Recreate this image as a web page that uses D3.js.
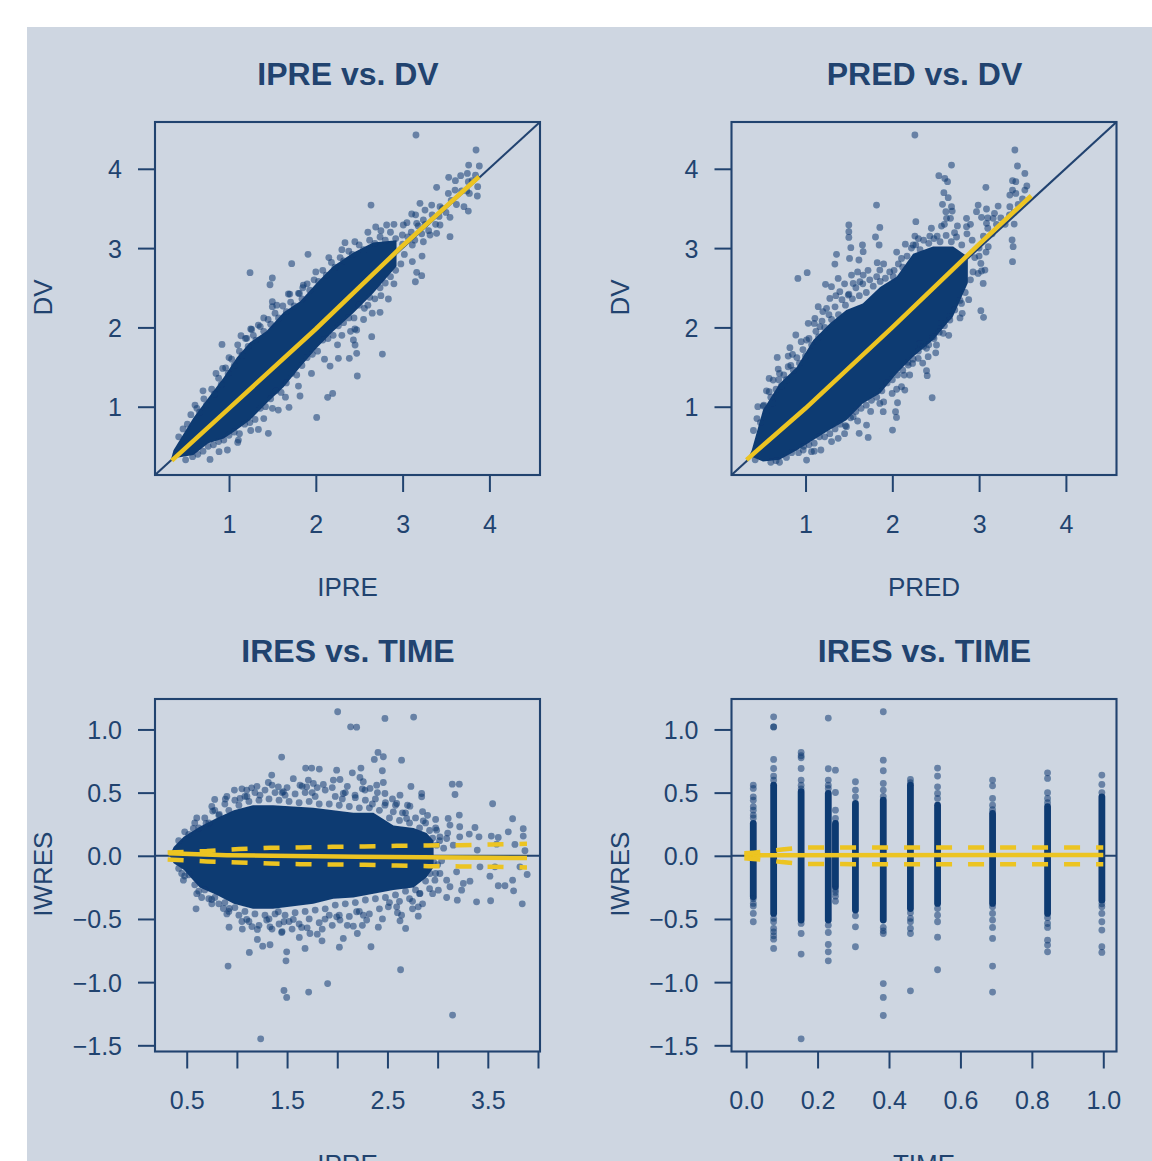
<!DOCTYPE html>
<html>
<head>
<meta charset="utf-8">
<script src="https://cdn.jsdelivr.net/npm/d3@7"></script>
<style>
  body { margin: 0; background: #fff; }
  svg { display: block; }
  text { font-family: 'Liberation Sans', Arial, sans-serif; fill: #21436f; }
</style>
</head>
<body>
<svg width="1152" height="1161"></svg>
<script>
// Tick values and labels
const dvTicks = [1, 2, 3, 4]
const iwresTicks = [-1.5, -1, -0.5, 0, 0.5, 1]
const ipreResTicks = [0.5, 1, 1.5, 2, 2.5, 3, 3.5, 4]
const ipreResLabels = [0.5, 1.5, 2.5, 3.5]
const timeTicks = [0, 0.2, 0.4, 0.6, 0.8, 1]

// IPRE vs. DV - solid core of the cloud (x, lower edge, upper edge)
const ipreCoreX = [0.33, 0.36, 0.59, 0.76, 0.94, 1.09, 1.24, 1.43, 1.63, 1.82, 2.01, 2.2, 2.43, 2.66, 2.93]
const ipreCoreLo = [0.33, 0.35, 0.39, 0.54, 0.6, 0.71, 0.83, 1.04, 1.25, 1.5, 1.74, 1.95, 2.18, 2.43, 2.77]
const ipreCoreHi = [0.33, 0.45, 0.86, 1.11, 1.37, 1.62, 1.81, 1.95, 2.19, 2.33, 2.56, 2.77, 2.94, 3.07, 3.1]
const ipreFitX = [0.34, 1, 2, 3, 3.88]
const ipreFitY = [0.32, 0.98, 1.98, 3.03, 3.9]
const iprePoints = [
  [3.154, 4.426], [3.846, 4.237], [3.761, 4.047], [3.884, 4.035], [3.669, 3.913], [3.746, 3.942], [3.531, 3.892],
  [3.608, 3.85], [3.392, 3.766], [3.757, 3.837], [3.865, 3.774], [3.861, 3.657], [3.769, 3.69], [3.527, 3.69],
  [3.604, 3.732], [3.707, 3.522], [3.757, 3.467], [3.546, 3.388], [3.546, 3.144], [2.636, 3.543], [3.2, 3.564],
  [3.258, 3.48], [3.335, 3.543], [3.431, 3.522], [3.105, 3.43], [3.162, 3.312], [3.239, 3.354], [3.431, 3.291],
  [3.392, 3.186], [3.316, 3.165], [2.69, 3.266], [2.816, 3.291], [3.008, 3.291], [2.997, 3.165], [3.112, 3.039],
  [3.239, 3.08], [3.224, 2.9], [3.112, 2.83], [3.162, 2.694], [3.22, 2.652], [3.147, 2.576], [2.336, 3.068],
  [1.91, 2.921], [1.722, 2.803], [1.242, 2.69], [1.499, 2.623], [1.472, 2.538], [1.856, 2.534], [1.684, 2.421],
  [1.811, 2.429], [1.499, 2.324], [1.499, 2.261], [1.338, 2.03], [1.261, 1.975], [1.138, 1.895], [1.204, 1.862],
  [0.919, 1.786], [0.927, 1.483], [0.608, 1.021], [2.836, 2.358], [2.74, 2.19], [2.644, 1.883], [2.767, 1.664],
  [2.471, 1.967], [2.433, 1.841], [2.452, 1.778], [2.471, 1.673], [2.386, 1.61], [2.26, 1.61], [2.164, 1.513],
  [2.478, 1.387], [2.194, 1.168], [2.136, 1.118], [2.01, 0.865], [1.818, 1.135], [1.691, 0.992], [1.568, 0.958],
  [1.453, 0.664], [1.338, 0.714], [0.981, 0.454], [0.885, 0.433], [0.781, 0.336], [1.108, 0.58]
]
const ipreFringe = [
  [0.42, 0.62], [0.47, 0.72], [0.52, 0.78], [0.56, 0.9], [0.63, 0.98], [0.66, 0.93], [0.71, 1.1], [0.74, 1.02], [0.8, 1.22], [0.83, 1.16],
  [0.88, 1.36], [0.91, 1.28], [0.96, 1.49], [0.99, 1.42], [1.03, 1.6], [1.06, 1.52], [1.12, 1.7], [1.15, 1.65], [1.19, 1.86], [1.22, 1.76],
  [1.28, 1.9], [1.31, 1.84], [1.36, 2.01], [1.4, 1.95], [1.45, 2.1], [1.48, 2.04], [1.53, 2.18], [1.57, 2.12], [1.62, 2.27], [1.66, 2.2],
  [1.71, 2.32], [1.75, 2.27], [1.8, 2.43], [1.84, 2.36], [1.9, 2.55], [1.93, 2.47], [1.98, 2.6], [2.03, 2.58], [2.08, 2.72], [2.12, 2.66],
  [2.18, 2.82], [2.22, 2.76], [2.28, 2.88], [2.32, 2.84], [2.38, 2.96], [2.42, 2.92], [2.5, 3.04], [2.55, 2.98], [2.62, 3.1], [2.68, 3.06],
  [2.74, 3.14], [2.8, 3.1], [2.86, 3.2], [2.92, 3.12],
  [0.5, 0.33], [0.58, 0.37], [0.64, 0.4], [0.7, 0.44], [0.76, 0.5], [0.82, 0.52], [0.88, 0.56], [0.94, 0.58], [1.0, 0.64], [1.06, 0.68],
  [1.12, 0.66], [1.18, 0.78], [1.24, 0.8], [1.3, 0.84], [1.36, 0.98], [1.42, 1.0], [1.48, 1.1], [1.54, 1.2], [1.6, 1.18], [1.66, 1.3],
  [1.72, 1.42], [1.78, 1.4], [1.84, 1.52], [1.9, 1.62], [1.96, 1.66], [2.02, 1.7], [2.08, 1.84], [2.14, 1.86], [2.2, 1.9], [2.26, 2.02],
  [2.32, 2.06], [2.38, 2.12], [2.44, 2.12], [2.5, 2.28], [2.56, 2.24], [2.62, 2.38], [2.68, 2.36], [2.74, 2.5], [2.8, 2.56], [2.86, 2.64],
  [2.92, 2.72], [2.98, 2.8],
  [3.0, 3.05], [3.02, 2.92], [3.06, 3.14], [3.1, 3.2], [3.14, 3.1], [3.18, 3.28], [3.22, 3.18], [3.26, 3.3], [3.3, 3.22], [3.34, 3.42],
  [3.38, 3.3], [3.42, 3.4], [3.46, 3.5], [3.5, 3.45], [3.56, 3.6], [3.62, 3.55], [3.68, 3.72], [3.74, 3.72], [3.8, 3.85], [3.84, 3.92],
  [1.1, 0.55], [1.25, 0.7], [1.4, 0.85], [1.5, 0.98], [1.65, 1.12], [1.8, 1.26], [1.95, 1.42], [2.1, 1.6], [2.25, 1.78], [2.4, 1.95],
  [2.55, 2.1], [2.65, 2.18], [2.3, 1.9], [2.45, 1.98], [2.6, 2.28], [2.75, 2.4], [2.9, 2.55],
  [0.7, 1.2], [0.85, 1.42], [1.0, 1.62], [1.1, 1.78], [1.25, 1.98], [1.4, 2.12], [1.55, 2.28], [1.7, 2.42], [1.85, 2.5], [2.0, 2.7],
  [2.15, 2.88], [2.3, 2.98], [2.45, 3.08], [2.6, 3.2], [2.75, 3.22], [2.9, 3.3], [3.05, 3.32], [3.15, 3.42]
]

// PRED vs. DV
const predCoreX = [0.33, 0.38, 0.51, 0.7, 0.9, 1.09, 1.28, 1.47, 1.66, 1.86, 2.05, 2.24, 2.47, 2.7, 2.87]
const predCoreLo = [0.33, 0.37, 0.31, 0.33, 0.45, 0.58, 0.71, 0.83, 1.04, 1.17, 1.42, 1.63, 1.84, 2.14, 2.56]
const predCoreHi = [0.33, 0.45, 0.96, 1.29, 1.5, 1.84, 2.05, 2.22, 2.3, 2.51, 2.64, 2.93, 3.02, 3.02, 2.89]
const predFitX = [0.32, 1, 2, 3, 3.6]
const predFitY = [0.33, 0.98, 2.0, 3.05, 3.66]
const predPoints = [
  [2.26, 4.426], [3.412, 4.237], [2.682, 4.047], [3.442, 4.035], [3.527, 3.942], [2.536, 3.913], [2.605, 3.879],
  [2.636, 3.837], [3.078, 3.766], [3.385, 3.85], [3.423, 3.837], [3.55, 3.783], [3.385, 3.732], [3.423, 3.69],
  [3.527, 3.732], [3.354, 3.669], [2.594, 3.699], [2.644, 3.636], [2.578, 3.552], [2.682, 3.522], [2.69, 3.467],
  [2.617, 3.459], [2.625, 3.375], [2.67, 3.375], [1.818, 3.543], [2.989, 3.543], [3.085, 3.493], [3.219, 3.53],
  [3.354, 3.522], [2.97, 3.459], [3.177, 3.438], [2.855, 3.375], [3.028, 3.388], [3.162, 3.375], [3.404, 3.303],
  [1.499, 3.291], [1.856, 3.261], [2.271, 3.333], [1.499, 3.207], [1.499, 3.135], [1.806, 3.14], [2.567, 3.278],
  [2.855, 3.27], [3.085, 3.312], [1.848, 3.039], [1.522, 3.005], [1.656, 3.039], [1.664, 2.955], [3.38, 3.102],
  [3.392, 3.018], [3.105, 3.018], [3.385, 2.829], [2.26, 3.152], [2.432, 3.152], [2.517, 3.152], [2.24, 3.039],
  [2.717, 3.194], [1.357, 2.921], [1.507, 2.87], [1.338, 2.799], [1.615, 2.85], [1.826, 2.816], [2.106, 2.87],
  [1.019, 2.69], [0.912, 2.618], [1.376, 2.618], [1.53, 2.66], [1.664, 2.66], [1.856, 2.723], [2.01, 2.639],
  [1.549, 2.555], [1.626, 2.576], [1.23, 2.543], [1.299, 2.513], [1.395, 2.45], [1.28, 2.366], [1.492, 2.408],
  [1.146, 2.261], [1.242, 2.24], [1.031, 2.051], [1.108, 2.114], [1.165, 2.009], [0.888, 1.904], [1.012, 1.841],
  [0.82, 1.744], [0.674, 1.622], [0.8, 1.639], [0.685, 1.475], [0.8, 1.504], [0.581, 1.357], [0.581, 1.189],
  [0.512, 1.008], [0.627, 1.336], [3.028, 2.711], [3.067, 2.723], [2.989, 2.681], [3.047, 2.555], [3.02, 2.211],
  [3.051, 2.127], [3.02, 2.807], [2.805, 2.177], [2.663, 2.093], [2.797, 2.303], [2.567, 2.051], [2.586, 1.925],
  [2.509, 1.778], [2.394, 1.736], [2.413, 1.631], [2.298, 1.61], [2.233, 1.546], [2.183, 1.525], [2.394, 1.454],
  [2.402, 1.391], [2.137, 1.399], [2.106, 1.252], [2.144, 1.21], [2.459, 1.113], [1.998, 1.168], [2.06, 1.05],
  [1.895, 0.937], [2.037, 0.937], [2.048, 0.865], [1.856, 1.042], [1.703, 0.769], [1.618, 0.664], [1.722, 0.613],
  [2.002, 0.706], [1.472, 0.748], [1.549, 0.874], [1.376, 0.601], [1.177, 0.454], [1.069, 0.433], [1.012, 0.327],
  [0.973, 0.454], [2.317, 1.799], [2.471, 1.883]
]
const predFringe = [
  [0.4, 0.7], [0.44, 0.85], [0.48, 0.8], [0.52, 1.02], [0.55, 0.95], [0.6, 1.12], [0.62, 1.05], [0.66, 1.22], [0.69, 1.34], [0.72, 1.26],
  [0.75, 1.4], [0.78, 1.34], [0.83, 1.52], [0.86, 1.46], [0.9, 1.62], [0.93, 1.55], [0.97, 1.72], [1.0, 1.64], [1.04, 1.86], [1.07, 1.78],
  [1.12, 1.95], [1.15, 1.88], [1.19, 2.08], [1.22, 2.0], [1.27, 2.16], [1.3, 2.1], [1.34, 2.26], [1.38, 2.16], [1.42, 2.35], [1.46, 2.28],
  [1.5, 2.42], [1.54, 2.36], [1.58, 2.5], [1.62, 2.4], [1.66, 2.55], [1.7, 2.44], [1.74, 2.6], [1.78, 2.52], [1.82, 2.64], [1.86, 2.58],
  [1.92, 2.62], [1.97, 2.7], [2.02, 2.72], [2.07, 2.8], [2.12, 2.76], [2.17, 2.9], [2.22, 3.0], [2.27, 3.04], [2.32, 2.98], [2.36, 3.1],
  [2.42, 3.06], [2.48, 3.12], [2.55, 3.08], [2.62, 3.16], [2.68, 3.08], [2.74, 3.14], [2.8, 3.04], [2.86, 3.18], [2.92, 3.1], [2.95, 2.88],
  [0.42, 0.33], [0.6, 0.3], [0.66, 0.32], [0.78, 0.36], [0.84, 0.42], [0.92, 0.42], [0.98, 0.5], [1.04, 0.52], [1.1, 0.54], [1.16, 0.62],
  [1.22, 0.62], [1.28, 0.66], [1.34, 0.72], [1.4, 0.78], [1.46, 0.76], [1.52, 0.86], [1.58, 0.94], [1.64, 0.98], [1.7, 1.02], [1.76, 1.08],
  [1.82, 1.12], [1.88, 1.2], [1.94, 1.3], [2.0, 1.34], [2.06, 1.4], [2.12, 1.46], [2.18, 1.56], [2.24, 1.6], [2.3, 1.7], [2.36, 1.76],
  [2.42, 1.78], [2.48, 1.86], [2.54, 1.94], [2.6, 2.02], [2.66, 2.14], [2.72, 2.22], [2.78, 2.34], [2.84, 2.44], [2.9, 2.6], [2.93, 2.7],
  [3.0, 3.0], [3.05, 3.15], [3.1, 3.25], [3.15, 3.18], [3.2, 3.3], [3.25, 3.38], [3.3, 3.3], [3.35, 3.42], [3.4, 3.45], [3.45, 3.55],
  [3.5, 3.62], [3.0, 2.9], [3.08, 2.95],
  [0.45, 1.0], [0.55, 1.2], [0.7, 1.42], [0.85, 1.66], [0.95, 1.82], [1.1, 2.05], [1.2, 2.2], [1.35, 2.4], [1.45, 2.55], [1.6, 2.7],
  [1.72, 2.72], [1.9, 2.8], [2.05, 2.95], [2.15, 3.05], [2.3, 3.12], [2.45, 3.25], [2.6, 3.3], [2.75, 3.28], [2.9, 3.3], [3.1, 3.38],
  [0.7, 0.3], [1.1, 0.44], [1.3, 0.56], [1.45, 0.66], [1.6, 0.82], [1.75, 0.94], [1.9, 1.06], [2.05, 1.22], [2.2, 1.4], [2.35, 1.55],
  [2.5, 1.68], [2.65, 1.9], [2.78, 2.12], [2.88, 2.35]
]

// IPRE vs. IWRES
const resCoreX = [0.33, 0.37, 0.47, 0.63, 0.8, 0.97, 1.16, 1.36, 1.56, 1.76, 1.96, 2.16, 2.36, 2.56, 2.76, 2.89, 2.96]
const resCoreLo = [0, -0.06, -0.11, -0.25, -0.31, -0.38, -0.42, -0.42, -0.4, -0.38, -0.34, -0.33, -0.3, -0.27, -0.25, -0.17, -0.09]
const resCoreHi = [0, 0.07, 0.15, 0.23, 0.3, 0.36, 0.4, 0.4, 0.39, 0.38, 0.36, 0.34, 0.34, 0.24, 0.22, 0.18, 0.12]
const resFitX = [0.32, 0.9, 2.2, 3.5, 3.89]
const resFitY = [0.02, 0.005, -0.008, -0.016, -0.018]
const resBandX = [0.31, 0.7, 1.02, 1.33, 1.63, 1.95, 2.27, 2.59, 2.91, 3.22, 3.55, 3.89]
const resBandHi = [0.026, 0.037, 0.053, 0.063, 0.066, 0.071, 0.074, 0.079, 0.082, 0.084, 0.09, 0.095]
const resBandLo = [-0.029, -0.045, -0.053, -0.061, -0.066, -0.069, -0.071, -0.077, -0.082, -0.084, -0.087, -0.092]
const resPoints = [
  [2.004, 1.14], [2.133, 1.021], [2.193, 1.018], [2.475, 1.087], [2.761, 1.098], [1.446, 0.781], [2.406, 0.818],
  [2.459, 0.784], [2.369, 0.763], [2.641, 0.757], [1.685, 0.694], [1.745, 0.694], [1.821, 0.686], [1.994, 0.678],
  [2.15, 0.657], [2.236, 0.694], [2.449, 0.673], [1.347, 0.639], [1.562, 0.61], [1.313, 0.58], [1.961, 0.599],
  [2.027, 0.604], [2.226, 0.62], [2.259, 0.586], [1.629, 0.559], [1.712, 0.599], [1.762, 0.573], [1.861, 0.565],
  [2.459, 0.58], [2.393, 0.559], [2.326, 0.533], [2.276, 0.52], [2.475, 0.493], [2.734, 0.549], [0.975, 0.52],
  [1.147, 0.538], [1.413, 0.546], [1.098, 0.52], [1.463, 0.507], [1.695, 0.546], [2.06, 0.493], [2.177, 0.48],
  [2.625, 0.48], [2.841, 0.493], [2.841, 0.467], [3.146, 0.567], [3.216, 0.567], [3.173, 0.485], [3.548, 0.412],
  [0.779, 0.446], [0.885, 0.449], [0.759, 0.354], [0.825, 0.327], [1.031, 0.454], [1.23, 0.48], [2.592, 0.414],
  [2.475, 0.401], [2.724, 0.393], [2.558, 0.348], [2.691, 0.296], [3.216, 0.322], [2.857, 0.277], [2.98, 0.288],
  [3.105, 0.296], [3.747, 0.293], [3.123, 0.243], [2.99, 0.203], [3.22, 0.23], [3.372, 0.224], [3.853, 0.214],
  [3.704, 0.19], [3.412, 0.15], [3.535, 0.156], [3.604, 0.145], [3.315, 0.172], [3.09, 0.137], [3.023, 0.15],
  [3.22, 0.15], [3.853, 0.156], [3.77, 0.09], [3.588, 0.092], [3.395, 0.045], [3.156, 0.084], [2.99, 0.084],
  [3.87, 0.04], [0.693, 0.256], [0.566, 0.216], [3.892, -0.148], [3.82, -0.087], [3.747, -0.193], [3.757, -0.277],
  [3.843, -0.38], [3.528, -0.356], [3.671, -0.237], [3.604, -0.237], [3.521, -0.161], [3.571, -0.087], [3.388, -0.364],
  [3.422, -0.087], [3.322, -0.201], [3.256, -0.219], [3.239, -0.272], [3.196, -0.351], [3.09, -0.33], [3.007, -0.272],
  [3.123, -0.245], [2.973, -0.193], [3.09, -0.193], [3.023, -0.14], [3.189, -0.127], [2.924, -0.14], [2.824, -0.298],
  [2.807, -0.404], [2.807, -0.478], [2.641, -0.47], [2.681, -0.575], [2.625, -0.515], [2.592, -0.404], [2.509, -0.404],
  [2.409, -0.565], [2.293, -0.509], [2.26, -0.47], [2.193, -0.443], [2.16, -0.557], [2.2, -0.615], [2.06, -0.654],
  [2.021, -0.723], [2.336, -0.72], [2.027, -0.509], [1.994, -0.483], [1.878, -0.501], [1.801, -0.62], [1.848, -0.673],
  [1.728, -0.615], [1.679, -0.733], [1.622, -0.646], [1.645, -0.567], [1.562, -0.504], [1.469, -0.522], [1.446, -0.607],
  [1.496, -0.76], [1.489, -0.831], [1.413, -0.443], [1.297, -0.509], [1.33, -0.562], [1.204, -0.583], [1.204, -0.662],
  [1.257, -0.715], [1.33, -0.704], [1.124, -0.765], [1.054, -0.58], [0.922, -0.565], [1.098, -0.504], [0.925, -0.417],
  [0.865, -0.417], [0.593, -0.42], [0.649, -0.33], [0.749, -0.346], [0.467, -0.193], [0.45, -0.14], [0.912, -0.873],
  [2.631, -0.902], [1.904, -1.011], [1.469, -1.066], [1.496, -1.121], [1.715, -1.079], [3.149, -1.261], [1.237, -1.449]
]
const resFringe = [
  [0.42, 0.12], [0.48, 0.19], [0.52, 0.17], [0.58, 0.26], [0.62, 0.22], [0.68, 0.3], [0.72, 0.26], [0.78, 0.36], [0.82, 0.32], [0.88, 0.41],
  [0.92, 0.36], [0.98, 0.44], [1.02, 0.4], [1.08, 0.47], [1.12, 0.43], [1.18, 0.5], [1.22, 0.44], [1.28, 0.52], [1.32, 0.45], [1.38, 0.5],
  [1.42, 0.44], [1.48, 0.48], [1.52, 0.43], [1.58, 0.49], [1.62, 0.42], [1.68, 0.5], [1.72, 0.43], [1.78, 0.47], [1.82, 0.41], [1.88, 0.52],
  [1.92, 0.41], [1.98, 0.47], [2.02, 0.4], [2.08, 0.5], [2.12, 0.39], [2.18, 0.46], [2.22, 0.38], [2.28, 0.44], [2.32, 0.38], [2.38, 0.45],
  [2.42, 0.36], [2.48, 0.42], [2.52, 0.3], [2.58, 0.4], [2.62, 0.28], [2.68, 0.34], [2.72, 0.26], [2.78, 0.3], [2.82, 0.22], [2.88, 0.26],
  [2.92, 0.2], [2.98, 0.22], [2.95, 0.14], [3.02, 0.12], [3.06, 0.06], [3.1, 0.18],
  [0.42, -0.1], [0.48, -0.16], [0.52, -0.15], [0.58, -0.23], [0.62, -0.28], [0.68, -0.27], [0.72, -0.34], [0.78, -0.33], [0.82, -0.38], [0.88, -0.37],
  [0.92, -0.44], [0.98, -0.41], [1.02, -0.47], [1.08, -0.44], [1.12, -0.52], [1.18, -0.46], [1.22, -0.55], [1.28, -0.47], [1.32, -0.5], [1.38, -0.46],
  [1.42, -0.54], [1.48, -0.47], [1.52, -0.52], [1.58, -0.45], [1.62, -0.54], [1.68, -0.44], [1.72, -0.5], [1.78, -0.43], [1.82, -0.53], [1.88, -0.42],
  [1.92, -0.47], [1.98, -0.39], [2.02, -0.47], [2.08, -0.38], [2.12, -0.48], [2.18, -0.37], [2.22, -0.44], [2.28, -0.35], [2.32, -0.46], [2.38, -0.34],
  [2.42, -0.42], [2.48, -0.33], [2.52, -0.37], [2.58, -0.31], [2.62, -0.36], [2.68, -0.28], [2.72, -0.34], [2.78, -0.27], [2.82, -0.3], [2.88, -0.2],
  [2.92, -0.26], [2.98, -0.14], [3.0, -0.07], [3.04, -0.04], [2.96, -0.05],
  [0.6, 0.3], [0.75, 0.39], [0.9, 0.47], [1.05, 0.53], [1.2, 0.55], [1.35, 0.56], [1.5, 0.54], [1.65, 0.55], [1.8, 0.54], [1.95, 0.54],
  [2.1, 0.55], [2.25, 0.53], [2.4, 0.5], [2.55, 0.45], [2.7, 0.4], [2.85, 0.35], [1.1, 0.47], [1.45, 0.5], [1.75, 0.5], [2.05, 0.45],
  [2.35, 0.41], [2.65, 0.34], [2.9, 0.32],
  [0.6, -0.3], [0.75, -0.38], [0.9, -0.46], [1.05, -0.52], [1.15, -0.56], [1.35, -0.58], [1.45, -0.6], [1.55, -0.58], [1.7, -0.57], [1.85, -0.58],
  [1.95, -0.55], [2.1, -0.55], [2.25, -0.55], [2.45, -0.5], [2.6, -0.45], [2.75, -0.42], [2.85, -0.38], [2.75, -0.36], [2.95, -0.3]
]

// TIME vs. IWRES - every sampling time has a solid column and a few loose points
const timeValues = [0.02, 0.077, 0.154, 0.23, 0.25, 0.306, 0.384, 0.46, 0.536, 0.69, 0.844, 0.996]
const timeCoreHi = [0.256, 0.559, 0.507, 0.493, 0.256, 0.414, 0.441, 0.559, 0.401, 0.335, 0.388, 0.467]
const timeCoreLo = [-0.325, -0.456, -0.509, -0.509, -0.245, -0.43, -0.509, -0.417, -0.377, -0.377, -0.456, -0.351]
const timeLoose = [
  [0.56, 0.533, 0.467, 0.44, 0.388, 0.361, 0.322, 0.3, -0.34, -0.377, -0.398, -0.456, -0.522],
  [1.1, 1.02, 1.02, 0.763, 0.691, 0.631, 0.599, -0.496, -0.522, -0.575, -0.602, -0.633, -0.66, -0.733],
  [0.818, 0.792, 0.776, 0.691, 0.599, 0.559, 0.53, -0.535, -0.615, -0.778, -1.449],
  [1.09, 0.689, 0.599, 0.559, 0.533, -0.549, -0.607, -0.702, -0.76, -0.831],
  [0.678, 0.501, 0.361, 0.296, -0.27, -0.29, -0.32, -0.359],
  [0.586, 0.52, 0.467, -0.475, -0.562, -0.72],
  [1.14, 0.757, 0.673, 0.573, 0.52, 0.47, -0.567, -0.594, -0.615, -1.011, -1.121, -1.264],
  [0.604, 0.578, -0.45, -0.496, -0.522, -0.575, -0.615, -1.069],
  [0.694, 0.631, 0.546, 0.493, 0.454, -0.417, -0.47, -0.522, -0.644, -0.902],
  [0.599, 0.554, 0.454, 0.401, 0.365, -0.404, -0.456, -0.509, -0.567, -0.654, -0.873, -1.079],
  [0.657, 0.612, 0.499, 0.454, 0.42, -0.49, -0.536, -0.567, -0.668, -0.707, -0.76],
  [0.639, 0.565, 0.5, -0.38, -0.404, -0.456, -0.522, -0.588, -0.72, -0.765]
]
const timeFitX = [-0.005, 1]
const timeFitY = [0.005, 0.006]
const timeBandX = [-0.005, 0.02, 0.06, 0.1, 0.16, 0.3, 1]
const timeBandHi = [0.02, 0.025, 0.035, 0.05, 0.065, 0.066, 0.066]
const timeBandLo = [-0.02, -0.025, -0.035, -0.05, -0.065, -0.066, -0.066]

const ink = '#21436f'
const dotBlue = '#0f3a72'
const gold = '#ecc420'

const svg = d3.select('svg')
svg.append('defs').append('filter').attr('id', 'soft')
  .append('feGaussianBlur').attr('stdDeviation', 0.45)
svg.append('rect').attr('x', 27).attr('y', 27).attr('width', 1125).attr('height', 1134).attr('fill', '#ced6e1')

function pairs (xs, ys) {
  return xs.map(function (x, i) { return [x, ys[i]] })
}

// One panel: frame, axes and titles. Returns the scales for the marks
function drawFrame (opts) {
  const g = svg.append('g').attr('transform', 'translate(' + opts.left + ',' + opts.top + ')')
  const x = d3.scaleLinear().domain(opts.xDomain).range([0, opts.width])
  const y = d3.scaleLinear().domain(opts.yDomain).range([opts.height, 0])

  const xAxis = g.append('g').attr('transform', 'translate(0,' + opts.height + ')')
    .call(d3.axisBottom(x).tickValues(opts.xTicks).tickSizeOuter(0).tickSize(17).tickPadding(23)
      .tickFormat(opts.xFormat))
  const yAxis = g.append('g')
    .call(d3.axisLeft(y).tickValues(opts.yTicks).tickSizeOuter(0).tickSize(17).tickPadding(16)
      .tickFormat(opts.yFormat))
  xAxis.selectAll('text').attr('dy', '0.71em')
  yAxis.selectAll('text').attr('dy', '0.36em')
  ;[xAxis, yAxis].forEach(function (a) {
    a.select('.domain').remove()
    a.selectAll('line').attr('stroke', ink).attr('stroke-width', 2)
    a.selectAll('text').style('font-size', '25px').attr('fill', ink)
  })

  g.append('text').attr('x', opts.width / 2 + 0.5).attr('y', -37).attr('text-anchor', 'middle')
    .style('font-size', '32px').style('font-weight', 'bold').text(opts.title)
  g.append('text').attr('x', opts.width / 2).attr('y', opts.height + 121).attr('text-anchor', 'middle')
    .style('font-size', '26px').text(opts.xLabel)
  g.append('text').attr('transform', 'translate(-103,' + (opts.height / 2 - 1) + ') rotate(-90)')
    .attr('text-anchor', 'middle').style('font-size', '26px').text(opts.yLabel)

  const marks = g.append('g').attr('filter', 'url(#soft)')
  return { g: g, marks: marks, x: x, y: y, width: opts.width, height: opts.height }
}

function drawBox (p) {
  p.g.append('rect').attr('width', p.width).attr('height', p.height)
    .attr('fill', 'none').attr('stroke', ink).attr('stroke-width', 2.1)
}

function drawDots (p, points) {
  p.marks.append('g').selectAll('circle')
    .data(points)
    .enter().append('circle')
    .attr('cx', function (d) { return p.x(d[0]) })
    .attr('cy', function (d) { return p.y(d[1]) })
    .attr('r', 3.4)
    .attr('fill', dotBlue)
    .attr('fill-opacity', 0.55)
}

function drawCore (p, xs, lo, hi) {
  const area = d3.area()
    .x(function (d) { return p.x(d) })
    .y0(function (d, i) { return p.y(lo[i]) })
    .y1(function (d, i) { return p.y(hi[i]) })
  p.marks.append('path').datum(xs).attr('fill', dotBlue).attr('d', area)
}

function drawLine (p, points, color, width, dash) {
  const line = d3.line()
    .x(function (d) { return p.x(d[0]) })
    .y(function (d) { return p.y(d[1]) })
  p.marks.append('path').datum(points).attr('fill', 'none')
    .attr('stroke', color).attr('stroke-width', width)
    .attr('stroke-dasharray', dash || null)
    .attr('d', line)
}

const plainFormat = function (d) { return d }
const dvDomain = [0.147, 4.583]
const dvOpts = { width: 385, height: 353, xDomain: dvDomain, yDomain: [0.139, 4.59], xTicks: dvTicks, yTicks: dvTicks, xFormat: plainFormat, yFormat: plainFormat, yLabel: 'DV', top: 122 }
const signed = function (d) { return d3.format('.1f')(d).replace('-', '\u2212') }

// IPRE vs. DV
const p1 = drawFrame(Object.assign({}, dvOpts, { left: 155, title: 'IPRE vs. DV', xLabel: 'IPRE' }))
drawCore(p1, ipreCoreX, ipreCoreLo, ipreCoreHi)
drawDots(p1, iprePoints.concat(ipreFringe))
drawLine(p1, [[dvDomain[0], 0.139], [dvDomain[1], 4.59]], ink, 2.1)
drawLine(p1, pairs(ipreFitX, ipreFitY), gold, 4.5)
drawBox(p1)

// PRED vs. DV
const p2 = drawFrame(Object.assign({}, dvOpts, { left: 731.5, title: 'PRED vs. DV', xLabel: 'PRED' }))
drawCore(p2, predCoreX, predCoreLo, predCoreHi)
drawDots(p2, predPoints.concat(predFringe))
drawLine(p2, [[dvDomain[0], 0.139], [dvDomain[1], 4.59]], ink, 2.1)
drawLine(p2, pairs(predFitX, predFitY), gold, 4.5)
drawBox(p2)

const resOpts = { width: 385, height: 352.5, yDomain: [-1.549, 1.241], yTicks: iwresTicks, yFormat: signed, yLabel: 'IWRES', top: 699 }

// IPRE vs. IWRES
const p3 = drawFrame(Object.assign({}, resOpts, {
  left: 155,
  xDomain: [0.184, 4.02],
  xTicks: ipreResTicks,
  xFormat: function (d) { return ipreResLabels.indexOf(d) >= 0 ? d3.format('.1f')(d) : '' },
  title: 'IRES vs. TIME',
  xLabel: 'IPRE'
}))
drawCore(p3, resCoreX, resCoreLo, resCoreHi)
drawDots(p3, resPoints.concat(resFringe))
drawLine(p3, [[0.184, 0], [4.02, 0]], ink, 2.1)
drawLine(p3, pairs(resFitX, resFitY), gold, 4.5)
drawLine(p3, pairs(resBandX, resBandHi), gold, 4.5, '16,16')
drawLine(p3, pairs(resBandX, resBandLo), gold, 4.5, '16,16')
drawBox(p3)

// TIME vs. IWRES
const p4 = drawFrame(Object.assign({}, resOpts, {
  left: 731.5,
  xDomain: [-0.041, 1.037],
  xTicks: timeTicks,
  xFormat: d3.format('.1f'),
  title: 'IRES vs. TIME',
  xLabel: 'TIME'
}))
p4.marks.append('g').selectAll('line')
  .data(timeValues)
  .enter().append('line')
  .attr('x1', function (d) { return p4.x(d) })
  .attr('x2', function (d) { return p4.x(d) })
  .attr('y1', function (d, i) { return p4.y(timeCoreHi[i]) })
  .attr('y2', function (d, i) { return p4.y(timeCoreLo[i]) })
  .attr('stroke', dotBlue)
  .attr('stroke-width', 6.8)
  .attr('stroke-linecap', 'round')
timeValues.forEach(function (t, i) {
  drawDots(p4, timeLoose[i].map(function (v) { return [t, v] }))
})
drawLine(p4, [[-0.041, 0], [1.037, 0]], ink, 2.1)
drawLine(p4, pairs(timeFitX, timeFitY), gold, 4.5)
drawLine(p4, pairs(timeBandX, timeBandHi), gold, 4.5, '16,16')
drawLine(p4, pairs(timeBandX, timeBandLo), gold, 4.5, '16,16')
drawBox(p4)
</script>
</body>
</html>
